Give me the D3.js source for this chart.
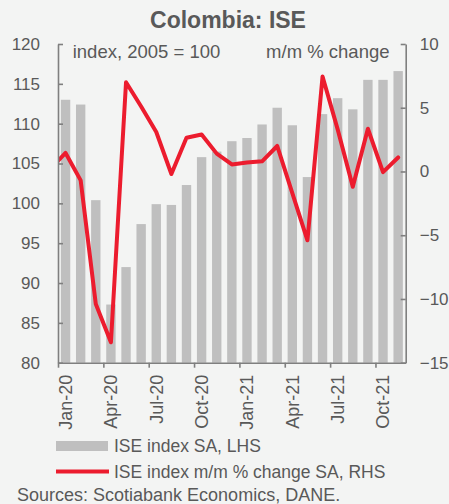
<!DOCTYPE html>
<html>
<head>
<meta charset="utf-8">
<script src="https://cdn.jsdelivr.net/npm/d3@7"></script>
<style>
  html, body { margin: 0; padding: 0; background: #f3f4f3; }
  svg { display: block; }
  text { font-family: "Liberation Sans", Arial, sans-serif; fill: #595959; }
</style>
</head>
<body>
<svg id="chart" width="449" height="504"></svg>
<script>
// ---- Data ----
const months = ["Jan-20","Feb-20","Mar-20","Apr-20","May-20","Jun-20","Jul-20","Aug-20","Sep-20","Oct-20","Nov-20","Dec-20",
                "Jan-21","Feb-21","Mar-21","Apr-21","May-21","Jun-21","Jul-21","Aug-21","Sep-21","Oct-21","Nov-21"];
const iseIndex = [113.0,112.4,100.4,87.3,92.0,97.4,99.9,99.8,102.3,105.8,106.5,107.8,
                  108.2,109.9,112.0,109.8,103.3,111.2,113.2,111.8,115.5,115.5,116.6];
// m/m % change; first entry is Dec-19 (clipped at the left edge of the plot)
const lineMonths = ["Dec-19"].concat(months);
const momChange = [0.2, 1.45, -0.7, -10.4, -13.4, 7.0, 5.1, 3.1, -0.2, 2.65, 2.9, 1.4,
                   0.55, 0.7, 0.8, 2.0, -1.7, -5.4, 7.45, 3.3, -1.2, 3.35, -0.05, 1.1];
const leftTicks = [80, 85, 90, 95, 100, 105, 110, 115, 120];
const rightTicks = [-15, -10, -5, 0, 5, 10];
const xLabelMonths = ["Jan-20","Apr-20","Jul-20","Oct-20","Jan-21","Apr-21","Jul-21","Oct-21"];

const title = "Colombia: ISE";
const leftNote = "index, 2005 = 100";
const rightNote = "m/m % change";
const legendBars = "ISE index SA, LHS";
const legendLine = "ISE index m/m % change SA, RHS";
const source = "Sources: Scotiabank Economics, DANE.";

// ---- Layout ----
const L = 58, R = 405.7, T = 44, B = 362.7;
const RED = "#ec1c2e", BAR = "#bfbfbf", AX = "#7f7f7f";

const svg = d3.select("#chart");

const x = d3.scaleLinear().domain([0, months.length]).range([L, R]);
const step = x(1) - x(0);
const bw = step * 0.62;
const yL = d3.scaleLinear().domain([80, 120]).range([B, T]);
const yR = d3.scaleLinear().domain([-15, 10]).range([B, T]);

// Title
svg.append("text").attr("x", 228).attr("y", 27.5).attr("text-anchor", "middle")
  .style("font-size", "23px").style("font-weight", "bold").text(title);

// Bars
svg.append("g").selectAll("rect").data(iseIndex).join("rect")
  .attr("x", (d, i) => x(i + 0.5) - bw / 2)
  .attr("y", d => yL(d))
  .attr("width", bw)
  .attr("height", d => B - yL(d))
  .attr("fill", BAR);

// Line (clipped to plot)
svg.append("clipPath").attr("id", "plotclip").append("rect")
  .attr("x", L).attr("y", T - 10).attr("width", R - L).attr("height", B - T + 20);
const line = d3.line().x((d, j) => x(j - 0.5)).y(d => yR(d));
svg.append("path").datum(momChange)
  .attr("clip-path", "url(#plotclip)")
  .attr("d", line)
  .attr("fill", "none").attr("stroke", RED).attr("stroke-width", 4)
  .attr("stroke-linejoin", "round").attr("stroke-linecap", "round");

// Axes
function styleAxis(g) {
  g.selectAll("path, line").attr("stroke", AX).attr("stroke-width", 1.6);
  g.selectAll("text").style("font-size", "17px").attr("fill", "#595959")
    .style("font-family", '"Liberation Sans", Arial, sans-serif');
}
svg.append("g").attr("transform", `translate(${L},0)`)
  .call(d3.axisLeft(yL).tickValues(leftTicks).tickSizeInner(-5).tickSizeOuter(0).tickPadding(18))
  .call(styleAxis);
svg.append("g").attr("transform", `translate(${R},0)`)
  .call(d3.axisRight(yR).tickValues(rightTicks).tickSizeInner(-5).tickSizeOuter(0).tickPadding(14))
  .call(styleAxis);

const tickIdx = xLabelMonths.map(m => months.indexOf(m));
svg.append("g").attr("transform", `translate(0,${B})`)
  .call(d3.axisBottom(x).tickValues(tickIdx).tickFormat("").tickSizeInner(5).tickSizeOuter(0))
  .call(styleAxis);

// X labels (rotated)
svg.append("g").selectAll("text").data(xLabelMonths).join("text")
  .attr("transform", m => `translate(${x(months.indexOf(m) + 0.5)},${B + 12}) rotate(-90)`)
  .attr("text-anchor", "end").attr("dy", "0.35em")
  .style("font-size", "18px").text(m => m);

// Inner notes
svg.append("text").attr("x", 72.7).attr("y", 57.5).style("font-size", "18.5px").text(leftNote);
svg.append("text").attr("x", 389.5).attr("y", 57.5).attr("text-anchor", "end")
  .style("font-size", "18.5px").text(rightNote);

// Legend
svg.append("rect").attr("x", 56).attr("y", 441).attr("width", 52).attr("height", 10).attr("fill", BAR);
svg.append("text").attr("x", 114).attr("y", 446).attr("dy", "0.35em").style("font-size", "17.5px").text(legendBars);
svg.append("line").attr("x1", 56).attr("x2", 109).attr("y1", 471.5).attr("y2", 471.5)
  .attr("stroke", RED).attr("stroke-width", 4);
svg.append("text").attr("x", 114).attr("y", 471.5).attr("dy", "0.35em").style("font-size", "17.5px").text(legendLine);

// Source
svg.append("text").attr("x", 17).attr("y", 495).attr("dy", "0.35em").style("font-size", "18px").text(source);
</script>
</body>
</html>
